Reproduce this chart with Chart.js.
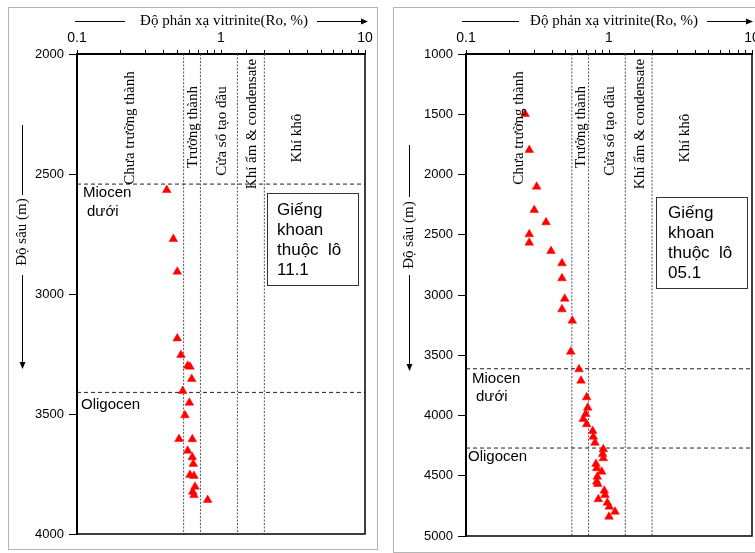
<!DOCTYPE html>
<html>
<head>
<meta charset="utf-8">
<script src="https://cdn.jsdelivr.net/npm/chart.js@4"></script>
<style>
body { margin: 0; background: #fff; width: 755px; height: 553px; overflow: hidden; position: relative; }
.frame { position: absolute; border: 1px solid #b4b4b4; }
canvas { position: absolute; top: 0; }
</style>
</head>
<body>
<div class="frame" style="left:8px;top:7px;width:368px;height:541px"></div>
<div class="frame" style="left:393px;top:7px;width:380px;height:544px"></div>
<canvas id="left" width="380" height="553" style="left:0"></canvas>
<canvas id="right" width="392" height="553" style="left:380px"></canvas>
<script>
const SANS = '"Liberation Sans", Arial, sans-serif';
const SERIF = '"Liberation Serif", "Times New Roman", serif';

// x axis labels and maturity zone boundaries (Ro, %)
const roTicks = [0.1, 1, 10];
const zoneBounds = [0.55, 0.72, 1.3, 2.0];
const zoneNames = ['Chưa trường thành', 'Trưởng thành', 'Cửa sổ tạo dầu', 'Khí ẩm & condensate', 'Khí khô'];
const zoneLabelRo = [0.235, 0.64, 1.02, 1.65, 3.4];

// well in block 11.1
const leftRo = [0.42, 0.467, 0.497, 0.497, 0.527, 0.587, 0.609, 0.626, 0.542, 0.603, 0.562,
  0.511, 0.632, 0.587, 0.632, 0.642, 0.609, 0.649, 0.66, 0.636, 0.649, 0.808];
const leftDepth = [2567, 2771, 2907, 3185, 3254, 3299, 3303, 3354, 3404, 3453, 3505,
  3604, 3605, 3653, 3680, 3708, 3754, 3758, 3803, 3824, 3838, 3858];
const leftTops = [2542, 3410];
const leftTopNames = [['Miocen', 'dưới'], ['Oligocen']];

// well in block 05.1
const rightRo = [0.259, 0.277, 0.312, 0.300, 0.363, 0.277, 0.277, 0.393, 0.469, 0.469, 0.490,
  0.469, 0.554, 0.540, 0.617, 0.637, 0.698, 0.710, 0.687, 0.661, 0.698, 0.769, 0.777, 0.798,
  0.912, 0.903, 0.912, 0.811, 0.820, 0.889, 0.828, 0.820, 0.834, 0.927, 0.938, 0.842, 0.973,
  1.005, 1.102, 1.0];
const rightDepth = [1498, 1797, 2101, 2295, 2397, 2496, 2566, 2635, 2737, 2861, 3031,
  3119, 3213, 3471, 3617, 3711, 3849, 3935, 3988, 4029, 4073, 4129, 4176, 4226,
  4280, 4320, 4355, 4402, 4438, 4466, 4508, 4549, 4568, 4624, 4660, 4695, 4724,
  4757, 4798, 4840];
const rightTops = [3612, 4270];
const rightTopNames = [['Miocen', 'dưới'], ['Oligocen']];

Chart.defaults.font.family = SANS;
Chart.defaults.font.size = 13;
Chart.defaults.color = '#000';

const zoneLabelDy = [74, 73, 77, 70, 84];

function arrowHead(ctx, x, y, dir) {
	// dir: 'right' or 'down'
	ctx.beginPath();
	if (dir === 'right') {
		ctx.moveTo(x, y); ctx.lineTo(x - 7, y - 3); ctx.lineTo(x - 7, y + 3);
	} else {
		ctx.moveTo(x, y); ctx.lineTo(x - 3, y - 7); ctx.lineTo(x + 3, y - 7);
	}
	ctx.closePath();
	ctx.fill();
}

const decor = {
	id: 'decor',
	afterDatasetsDraw(chart, args, o) {
		const ctx = chart.ctx;
		const a = chart.chartArea;
		const x = chart.scales.x, y = chart.scales.y;
		ctx.save();

		// right and bottom edges of the plot box
		ctx.strokeStyle = '#000';
		ctx.lineWidth = 1.5;
		ctx.beginPath();
		ctx.moveTo(a.left, a.bottom); ctx.lineTo(a.right, a.bottom); ctx.lineTo(a.right, a.top);
		ctx.stroke();

		ctx.fillStyle = '#000';
		ctx.lineWidth = 1;

		// zone names, rotated
		ctx.font = '15px ' + SERIF;
		ctx.textAlign = 'center';
		ctx.textBaseline = 'middle';
		zoneNames.forEach((n, i) => {
			ctx.save();
			ctx.translate(x.getPixelForValue(zoneLabelRo[i]), a.top + zoneLabelDy[i]);
			ctx.rotate(-Math.PI / 2);
			ctx.fillText(n, 0, 0);
			ctx.restore();
		});

		// formation names under the dashed lines
		ctx.font = '15px ' + SANS;
		ctx.textAlign = 'left';
		o.tops.forEach((d, i) => {
			const py = y.getPixelForValue(d);
			o.topNames[i].forEach((t, j) => {
				const p = o.topPos[i][j];
				ctx.fillText(t, a.left + p[0], py + p[1]);
			});
		});

		// well box
		const b = o.box;
		ctx.strokeStyle = '#333';
		ctx.strokeRect(b.x + 0.5, b.y + 0.5, b.w, b.h);
		ctx.font = '17px ' + SANS;
		b.lines.forEach((t, i) => ctx.fillText(t, b.tx, b.ty + i * 20));

		// x title with arrow
		const xt = o.xTitle;
		ctx.font = '15px ' + SERIF;
		ctx.textAlign = 'center';
		ctx.fillText('Độ phản xạ vitrinite(Ro, %)', xt.cx, xt.y);
		ctx.strokeStyle = '#000';
		ctx.beginPath();
		ctx.moveTo(xt.l0, xt.y + 0.5); ctx.lineTo(xt.l1, xt.y + 0.5);
		ctx.moveTo(xt.r0, xt.y + 0.5); ctx.lineTo(xt.r1 - 5, xt.y + 0.5);
		ctx.stroke();
		arrowHead(ctx, xt.r1, xt.y + 0.5, 'right');

		// y title with arrow
		const yt = o.yTitle;
		ctx.save();
		ctx.translate(yt.x, yt.cy);
		ctx.rotate(-Math.PI / 2);
		ctx.fillText('Độ sâu (m)', 0, 0);
		ctx.restore();
		ctx.beginPath();
		ctx.moveTo(yt.x + 0.5, yt.t0); ctx.lineTo(yt.x + 0.5, yt.t1);
		ctx.moveTo(yt.x + 0.5, yt.b0); ctx.lineTo(yt.x + 0.5, yt.b1 - 5);
		ctx.stroke();
		arrowHead(ctx, yt.x + 0.5, yt.b1, 'down');

		ctx.restore();
	}
};

function makeChart(id, o) {
	const datasets = [{
		type: 'scatter',
		data: o.ro.map((r, i) => ({x: r, y: o.depth[i]})),
		pointStyle: 'triangle',
		pointRadius: 5,
		backgroundColor: '#ff0000',
		borderColor: '#ff0000',
		borderWidth: 0.5,
		order: 0
	}];
	zoneBounds.forEach(v => datasets.push({
		type: 'line',
		data: [{x: v, y: o.yMin}, {x: v, y: o.yMax}],
		borderColor: '#555',
		borderWidth: 1,
		borderDash: [2, 1.5],
		pointRadius: 0,
		order: 2
	}));
	o.tops.forEach(d => datasets.push({
		type: 'line',
		data: [{x: 0.1, y: d}, {x: 10, y: d}],
		borderColor: '#222',
		borderWidth: 1,
		borderDash: [4, 3],
		pointRadius: 0,
		order: 1
	}));

	return new Chart(document.getElementById(id), {
		type: 'scatter',
		data: {datasets: datasets},
		options: {
			responsive: false,
			animation: false,
			layout: {padding: o.pad},
			plugins: {
				legend: {display: false},
				tooltip: {enabled: false},
				decor: o
			},
			scales: {
				x: {
					type: 'logarithmic',
					position: 'top',
					min: 0.1,
					max: 10,
					grid: {drawOnChartArea: false, tickLength: 4, color: '#000'},
					border: {color: '#000', width: 2},
					ticks: {
						padding: 3,
						autoSkip: false,
						maxRotation: 0,
						font: {size: 14},
						callback: (v) => roTicks.some(t => Math.abs(t - v) < 1e-9) ? String(v) : ''
					},
					afterFit(s) { s.height = o.top; s.paddingLeft = 0; s.paddingRight = 0; }
				},
				y: {
					type: 'linear',
					reverse: true,
					min: o.yMin,
					max: o.yMax,
					grid: {drawOnChartArea: false, tickLength: 8, color: '#000'},
					border: {color: '#000', width: 2},
					ticks: {stepSize: 500, padding: 5, callback: (v) => String(v)},
					afterFit(s) { s.width = o.left; s.paddingTop = 0; s.paddingBottom = 0; }
				}
			}
		},
		plugins: [decor]
	});
}

makeChart('left', {
	ro: leftRo, depth: leftDepth, tops: leftTops, topNames: leftTopNames,
	topPos: [[[6, 9], [10, 28]], [[4, 12]]],
	yMin: 2000, yMax: 4000,
	top: 54, left: 77,
	pad: {left: 0, top: 0, right: 15, bottom: 19},
	box: {x: 267, y: 193, w: 91, h: 92, tx: 277, ty: 210, lines: ['Giếng', 'khoan', 'thuộc  lô', '11.1']},
	xTitle: {cx: 224, y: 21, l0: 75, l1: 125, r0: 317, r1: 368},
	yTitle: {x: 22, cy: 232, t0: 125, t1: 195, b0: 275, b1: 369}
});

makeChart('right', {
	ro: rightRo, depth: rightDepth, tops: rightTops, topNames: rightTopNames,
	topPos: [[[6, 10], [10, 28]], [[2, 9]]],
	yMin: 1000, yMax: 5000,
	top: 54, left: 86,
	pad: {left: 0, top: 0, right: 20, bottom: 17},
	box: {x: 276, y: 197, w: 91, h: 91, tx: 288, ty: 213, lines: ['Giếng', 'khoan', 'thuộc  lô', '05.1']},
	xTitle: {cx: 234, y: 21, l0: 82, l1: 139, r0: 327, r1: 373},
	yTitle: {x: 29, cy: 235, t0: 145, t1: 197, b0: 275, b1: 371}
});
</script>
</body>
</html>
